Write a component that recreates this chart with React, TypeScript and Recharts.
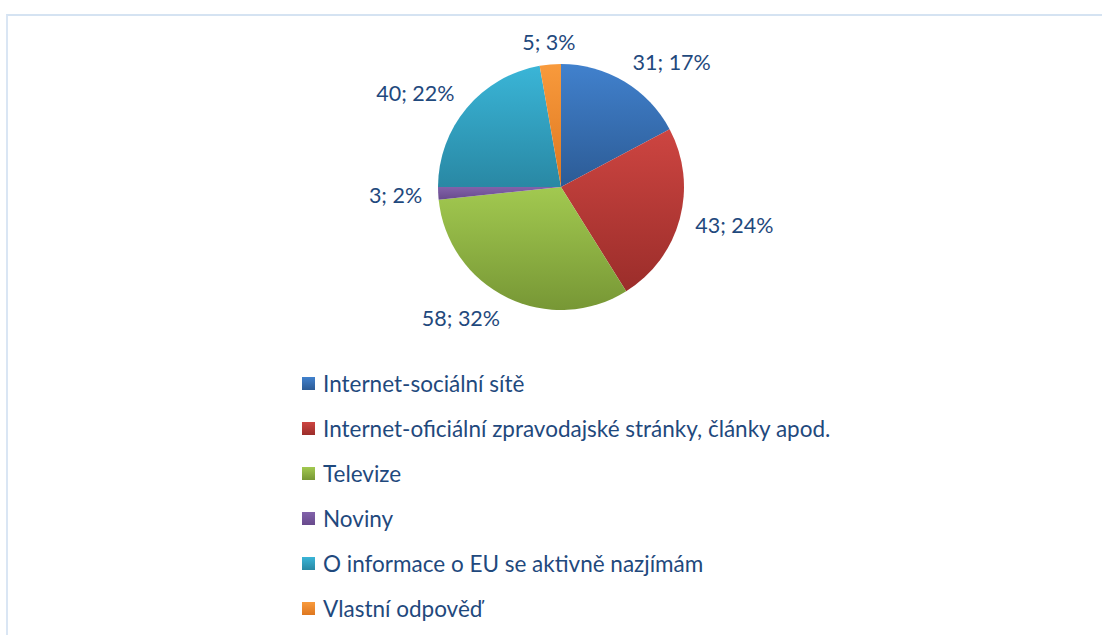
import { PieChart, Pie, Cell, Legend } from "recharts";

const categories = [
  "Internet-sociální sítě",
  "Internet-oficiální zpravodajské stránky, články apod.",
  "Televize",
  "Noviny",
  "O informace o EU se aktivně nazjímám",
  "Vlastní odpověď",
];
const counts = [31, 43, 58, 3, 40, 5];
const percents = [17, 24, 32, 2, 22, 3];

const topColors = ["#4181cd", "#cd4541", "#a2c950", "#8262aa", "#3ab5d7", "#f89a3c"];
const bottomColors = ["#2c5b95", "#9b2d2a", "#779735", "#684a8c", "#2988a4", "#de7720"];

const TEXT = "#1f497d";
const FONT = "Lato, 'Liberation Sans', sans-serif";

const data = categories.map((name, i) => ({
  name,
  value: counts[i],
  pct: percents[i],
}));

const RADIAN = Math.PI / 180;

const renderLabel = (props: any) => {
  const { cx, cy, midAngle, outerRadius, index } = props;
  const r = outerRadius + 16;
  const cos = Math.cos(-midAngle * RADIAN);
  const sin = Math.sin(-midAngle * RADIAN);
  const x = cx + r * cos;
  const y = cy + r * sin + sin * 7;
  const anchor = cos > 0.1 ? "start" : cos < -0.1 ? "end" : "middle";
  return (
    <text
      x={x}
      y={y}
      fill={TEXT}
      fontSize={21.5}
      fontFamily={FONT}
      textAnchor={anchor}
      dominantBaseline="central"
    >
      {`${counts[index]}; ${percents[index]}%`}
    </text>
  );
};

const renderLegend = () => (
  <div style={{ fontFamily: FONT, fontSize: 22.5, color: TEXT }}>
    {categories.map((c, i) => (
      <div
        key={c}
        style={{ display: "flex", alignItems: "center", height: 45 }}
      >
        <span
          style={{
            display: "inline-block",
            width: 13,
            height: 13,
            marginRight: 8,
            background: `linear-gradient(${topColors[i]}, ${bottomColors[i]})`,
          }}
        />
        <span>{c}</span>
      </div>
    ))}
  </div>
);

export default function App() {
  return (
    <div
      style={{
        position: "absolute",
        left: 0,
        top: 0,
        width: 1102,
        height: 635,
        background: "#fff",
        overflow: "hidden",
      }}
    >
      <div
        style={{
          position: "absolute",
          left: 6,
          top: 14,
          right: 0,
          bottom: 0,
          borderLeft: "2px solid #dae6f4",
          borderTop: "2px solid #d5e3f2",
        }}
      />
      <div style={{ position: "absolute", left: 0, top: 0 }}>
        <PieChart
          width={1102}
          height={635}
          margin={{ top: 0, right: 0, bottom: 0, left: 0 }}
        >
          <defs>
            {topColors.map((c, i) => (
              <linearGradient key={i} id={`g${i}`} x1="0" y1="0" x2="0" y2="1">
                <stop offset="0%" stopColor={c} />
                <stop offset="100%" stopColor={bottomColors[i]} />
              </linearGradient>
            ))}
          </defs>
          <Pie
            data={data}
            dataKey="value"
            nameKey="name"
            cx={561}
            cy={187}
            outerRadius={123}
            startAngle={90}
            endAngle={-270}
            stroke="none"
            label={renderLabel}
            labelLine={false}
            isAnimationActive={false}
          >
            {data.map((d, i) => (
              <Cell key={d.name} fill={`url(#g${i})`} />
            ))}
          </Pie>
          <Legend
            layout="vertical"
            content={renderLegend}
            wrapperStyle={{ left: 302, top: 361, width: 760 }}
          />
        </PieChart>
      </div>
    </div>
  );
}
